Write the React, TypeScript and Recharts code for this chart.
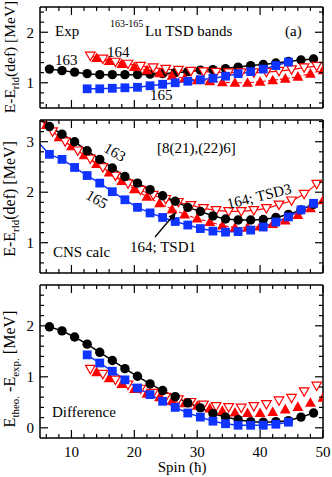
import React from 'react';
import { LineChart, Line, XAxis, YAxis } from 'recharts';

// spins
const spin163 = [6.5, 8.5, 10.5, 12.5, 14.5, 16.5, 18.5, 20.5, 22.5, 24.5, 26.5, 28.5, 30.5, 32.5, 34.5, 36.5, 38.5, 40.5, 42.5, 44.5, 46.5, 48.5];
const spin165Exp = [12.5, 14.5, 16.5, 18.5, 20.5, 22.5, 24.5, 26.5, 28.5, 30.5, 32.5, 34.5, 36.5, 38.5, 40.5, 42.5, 44.5];
const spinEven = [14, 16, 18, 20, 22, 24, 26, 28, 30, 32, 34, 36, 38, 40, 42, 44, 46, 48, 50];
const spinOdd = [13, 15, 17, 19, 21, 23, 25, 27, 29, 31, 33, 35, 37, 39, 41, 43, 45, 47, 49];
const spinEvenCalc = [5, 6, 8, 10, 12, 14, 16, 18, 20, 22, 24, 26, 28, 30, 32, 34, 36, 38, 40, 42, 44, 46, 48, 50];
const spinOddCalc = [5, 7, 9, 11, 13, 15, 17, 19, 21, 23, 25, 27, 29, 31, 33, 35, 37, 39, 41, 43, 45, 47, 49];
const spin163Calc = [5, ...spin163];

// (a) experiment
const exp163 = [1.27, 1.24, 1.21, 1.18, 1.16, 1.16, 1.16, 1.16, 1.17, 1.18, 1.2, 1.22, 1.25, 1.26, 1.28, 1.31, 1.34, 1.36, 1.39, 1.42, 1.45, 1.47];
const exp165 = [0.88, 0.88, 0.89, 0.9, 0.91, 0.94, 0.97, 1.0, 1.03, 1.06, 1.09, 1.13, 1.18, 1.22, 1.27, 1.34, 1.41];
const exp164Tsd1 = [1.49, 1.43, 1.37, 1.31, 1.25, 1.19, 1.14, 1.09, 1.05, 1.03, 1.01, 1.0, 1.0, 1.02, 1.05, 1.08, 1.12, 1.18, 1.25];
const exp164Tsd3 = [1.53, 1.47, 1.41, 1.37, 1.33, 1.3, 1.27, 1.25, 1.23, 1.22, 1.21, 1.2, 1.2, 1.2, 1.21, 1.23, 1.26, 1.3, 1.33];

// CNS calc (first value = edge of frame)
const calc163 = [3.47, 3.3, 3.15, 3.0, 2.82, 2.65, 2.48, 2.31, 2.18, 2.05, 1.93, 1.82, 1.7, 1.62, 1.53, 1.47, 1.45, 1.45, 1.46, 1.5, 1.56, 1.65, 1.76];
const calc165 = [2.95, 2.75, 2.65, 2.49, 2.33, 2.18, 2.01, 1.85, 1.7, 1.59, 1.5, 1.42, 1.35, 1.28, 1.23, 1.21, 1.22, 1.25, 1.31, 1.41, 1.51, 1.65, 1.78];
const calc164Tsd1 = [3.45, 3.33, 3.09, 2.91, 2.73, 2.56, 2.39, 2.22, 2.06, 1.91, 1.78, 1.66, 1.56, 1.48, 1.41, 1.34, 1.3, 1.3, 1.32, 1.37, 1.44, 1.55, 1.68, 1.84];
const calc164Tsd3 = [3.44, 3.2, 3.0, 2.82, 2.66, 2.49, 2.32, 2.17, 2.04, 1.94, 1.86, 1.8, 1.74, 1.68, 1.64, 1.62, 1.62, 1.64, 1.68, 1.75, 1.83, 1.96, 2.16];

// difference
const diff163 = [1.98, 1.9, 1.78, 1.64, 1.48, 1.32, 1.16, 1.01, 0.86, 0.73, 0.61, 0.49, 0.39, 0.28, 0.21, 0.16, 0.12, 0.11, 0.12, 0.14, 0.21, 0.29];
const diff165 = [1.43, 1.27, 1.11, 0.94, 0.78, 0.65, 0.52, 0.4, 0.29, 0.21, 0.13, 0.08, 0.05, 0.05, 0.05, 0.07, 0.11];
const diff164Tsd1 = [1.09, 0.97, 0.86, 0.76, 0.67, 0.6, 0.53, 0.48, 0.43, 0.38, 0.33, 0.3, 0.29, 0.29, 0.31, 0.36, 0.41, 0.49, 0.59];
const diff164Tsd3 = [1.15, 1.05, 0.94, 0.84, 0.76, 0.68, 0.6, 0.55, 0.5, 0.45, 0.42, 0.4, 0.39, 0.42, 0.46, 0.53, 0.58, 0.71, 0.82];

// axes
const xTicks = [6, 8, 10, 12, 14, 16, 18, 20, 22, 24, 26, 28, 30, 32, 34, 36, 38, 40, 42, 44, 46, 48, 50];
const xMajor = [10, 20, 30, 40, 50];
const yTicksA = [0.6, 0.8, 1, 1.2, 1.4, 1.6, 1.8, 2, 2.2, 2.4];
const yTicksB = [0.6, 0.8, 1, 1.2, 1.4, 1.6, 1.8, 2, 2.2, 2.4, 2.6, 2.8, 3, 3.2, 3.4];
const yTicksC = [0, 0.2, 0.4, 0.6, 0.8, 1, 1.2, 1.4, 1.6, 1.8, 2, 2.2, 2.4, 2.6];
const yMajor = [1, 2, 3];
const yMajorC = [0, 1, 2];

const FONT = '"Liberation Serif", "Times New Roman", serif';
const BLUE = '#1034ff';
const RED = '#ff0000';

const toRows = (s: number[], v: number[]) => s.map((x, i) => ({ s: x, v: v[i] }));

const isMajor = (v: number, majors: number[]) => majors.some((m) => Math.abs(m - v) < 1e-6);

const FrameTick = (props: any) => {
  const { x, y, payload, side, majors, label } = props;
  const big = isMajor(payload.value, majors);
  const len = big ? 8 : 4;
  let line = null;
  let text = null;
  if (side === 'left') {
    line = <line x1={x} x2={x + len} y1={y} y2={y} stroke="#000" strokeWidth={1.2} />;
    if (label && big)
      text = (
        <text x={x - 6} y={y} dy="0.35em" textAnchor="end" fontSize={15} fontFamily={FONT} fill="#000">
          {payload.value}
        </text>
      );
  } else if (side === 'right') {
    line = <line x1={x} x2={x - len} y1={y} y2={y} stroke="#000" strokeWidth={1.2} />;
  } else if (side === 'top') {
    line = <line x1={x} x2={x} y1={y} y2={y + len} stroke="#000" strokeWidth={1.2} />;
  } else {
    line = <line x1={x} x2={x} y1={y} y2={y - len} stroke="#000" strokeWidth={1.2} />;
    if (label && big)
      text = (
        <text x={x} y={y + 19} textAnchor="middle" fontSize={15} fontFamily={FONT} fill="#000">
          {payload.value}
        </text>
      );
  }
  return (
    <g>
      {line}
      {text}
    </g>
  );
};

const makeDot = (shape: string, skipFirst = false) => (p: any) => {
  const { cx, cy, index } = p;
  if ((skipFirst && index === 0) || cx == null || cy == null) return <g key={index} />;
  if (shape === 'circle') return <circle key={index} cx={cx} cy={cy} r={4.7} fill="#000" />;
  if (shape === 'square') return <rect key={index} x={cx - 4.4} y={cy - 4.4} width={8.8} height={8.8} fill={BLUE} />;
  if (shape === 'up')
    return <polygon key={index} points={`${cx},${cy - 5.6} ${cx - 5.4},${cy + 4} ${cx + 5.4},${cy + 4}`} fill={RED} />;
  return (
    <polygon
      key={index}
      points={`${cx - 4.8},${cy - 3.8} ${cx + 4.8},${cy - 3.8} ${cx},${cy + 4.6}`}
      fill="#fff"
      stroke={RED}
      strokeWidth={1.2}
    />
  );
};

const Frame = ({ yDomain, yTicks, yMaj, topH, bottomH, xLabels }: any) => [
  <XAxis
    key="xb"
    xAxisId="b"
    type="number"
    dataKey="s"
    domain={[5, 50]}
    allowDataOverflow
    ticks={xTicks}
    orientation="bottom"
    height={bottomH}
    tickSize={0}
    tickMargin={0}
    tickLine={false}
    axisLine={{ stroke: '#000', strokeWidth: 1.5 }}
    interval={0}
    tick={(p: any) => <FrameTick {...p} side="bottom" majors={xMajor} label={xLabels} />}
  />,
  <XAxis
    key="xt"
    xAxisId="t"
    type="number"
    dataKey="s"
    domain={[5, 50]}
    allowDataOverflow
    ticks={xTicks}
    orientation="top"
    height={topH}
    tickSize={0}
    tickMargin={0}
    tickLine={false}
    axisLine={{ stroke: '#000', strokeWidth: 1.5 }}
    interval={0}
    tick={(p: any) => <FrameTick {...p} side="top" majors={xMajor} />}
  />,
  <YAxis
    key="yl"
    yAxisId="l"
    type="number"
    domain={yDomain}
    allowDataOverflow
    ticks={yTicks}
    width={40}
    tickSize={0}
    tickMargin={0}
    tickLine={false}
    axisLine={{ stroke: '#000', strokeWidth: 1.5 }}
    interval={0}
    tick={(p: any) => <FrameTick {...p} side="left" majors={yMaj} label />}
  />,
  <YAxis
    key="yr"
    yAxisId="r"
    orientation="right"
    type="number"
    domain={yDomain}
    allowDataOverflow
    ticks={yTicks}
    width={9}
    tickSize={0}
    tickMargin={0}
    tickLine={false}
    axisLine={{ stroke: '#000', strokeWidth: 1.5 }}
    interval={0}
    tick={(p: any) => <FrameTick {...p} side="right" majors={yMaj} />}
  />,
];

const series = (key: string, rows: any[], color: string, shape: string, opts: any = {}) => (
  <Line
    key={key}
    xAxisId="b"
    yAxisId="l"
    data={rows}
    dataKey="v"
    type="linear"
    stroke={opts.noLine ? 'none' : color}
    strokeWidth={opts.width || 1.5}
    strokeDasharray={opts.dash}
    dot={makeDot(shape, opts.skipFirst)}
    activeDot={false}
    isAnimationActive={false}
  />
);

const App = () => {
  return (
    <div style={{ position: 'fixed', left: 0, top: 0, width: 332, height: 477, background: '#fff', fontFamily: FONT }}>
      <div style={{ position: 'absolute', left: 0, top: 0 }}>
        <LineChart width={332} height={112} margin={{ top: 0, right: 0, bottom: 0, left: 0 }}>
          {Frame({ yDomain: [0.5, 2.5], yTicks: yTicksA, yMaj: yMajor, topH: 7, bottomH: 4, xLabels: false })}
          {series('e163', toRows(spin163, exp163), '#000', 'circle')}
          {series('e164a', toRows(spinEven, exp164Tsd1), RED, 'up', { width: 1.1, dash: '4 2' })}
          {series('e164b', toRows(spinOdd, exp164Tsd3), RED, 'down', { width: 1.1 })}
          {series('e165', toRows(spin165Exp, exp165), BLUE, 'square')}
        </LineChart>
      </div>
      <div style={{ position: 'absolute', left: 0, top: 113 }}>
        <LineChart width={332} height={164} margin={{ top: 0, right: 0, bottom: 0, left: 0 }}>
          {Frame({ yDomain: [0.4, 3.43], yTicks: yTicksB, yMaj: yMajor, topH: 7, bottomH: 4, xLabels: false })}
          {series('c164a', toRows(spinEvenCalc, calc164Tsd1), RED, 'up', { width: 1.1, dash: '4 2', skipFirst: true })}
          {series('c164b', toRows(spinOddCalc, calc164Tsd3), RED, 'down', { width: 1.1, skipFirst: true })}
          {series('c163', toRows(spin163Calc, calc163), '#000', 'circle', { skipFirst: true })}
          {series('c165', toRows(spin163Calc, calc165), BLUE, 'square', { skipFirst: true })}
        </LineChart>
      </div>
      <div style={{ position: 'absolute', left: 0, top: 278 }}>
        <LineChart width={332} height={199} margin={{ top: 0, right: 0, bottom: 0, left: 0 }}>
          {Frame({ yDomain: [-0.2, 2.8], yTicks: yTicksC, yMaj: yMajorC, topH: 7, bottomH: 39, xLabels: true })}
          {series('d164a', toRows(spinEven, diff164Tsd1), RED, 'up', { noLine: true })}
          {series('d164b', toRows(spinOdd, diff164Tsd3), RED, 'down', { noLine: true })}
          {series('d163', toRows(spin163, diff163), '#000', 'circle')}
          {series('d165', toRows(spin165Exp, diff165), BLUE, 'square')}
        </LineChart>
      </div>
      <svg
        width={332}
        height={477}
        style={{ position: 'absolute', left: 0, top: 0, pointerEvents: 'none' }}
        fontFamily={FONT}
        fill="#000"
      >
        {/* axis titles */}
        <text transform="translate(15,57) rotate(-90)" textAnchor="middle" fontSize={15.5}>
          E-E<tspan fontSize={11} dy={4}>rld</tspan>
          <tspan dy={-4}>(def) [MeV]</tspan>
        </text>
        <text transform="translate(15,199) rotate(-90)" textAnchor="middle" fontSize={16}>
          E-E<tspan fontSize={11} dy={4}>rld</tspan>
          <tspan dy={-4}>(def) [MeV]</tspan>
        </text>
        <text transform="translate(15,369) rotate(-90)" textAnchor="middle" fontSize={16}>
          E<tspan fontSize={11} dy={4}>theo.</tspan>
          <tspan dy={-4}> -E</tspan>
          <tspan fontSize={11} dy={4}>exp.</tspan>
          <tspan dy={-4}> [MeV]</tspan>
        </text>
        <text x={182} y={472} textAnchor="middle" fontSize={15}>Spin (ħ)</text>

        {/* panel (a) */}
        <text x={55} y={36} fontSize={15}>Exp</text>
        <text x={110} y={27} fontSize={10}>163-165</text>
        <text x={145} y={36} fontSize={15}>Lu TSD bands</text>
        <text x={285} y={36} fontSize={15}>(a)</text>
        <text x={55} y={65} fontSize={15}>163</text>
        <text x={107} y={57} fontSize={15}>164</text>
        <text x={150} y={100} fontSize={15}>165</text>

        {/* CNS panel */}
        <text transform="translate(115,152) rotate(30)" textAnchor="middle" dy="0.35em" fontSize={15}>163</text>
        <text transform="translate(97,199) rotate(30)" textAnchor="middle" dy="0.35em" fontSize={15}>165</text>
        <text x={157} y={153} fontSize={15}>[8(21),(22)6]</text>
        <text transform="translate(259,196) rotate(-14)" textAnchor="middle" dy="0.35em" fontSize={15}>164; TSD3</text>
        <text x={130} y={252} fontSize={15}>164; TSD1</text>
        <text x={53} y={257} fontSize={15}>CNS calc</text>
        <line x1={155} y1={237} x2={172} y2={217} stroke="#000" strokeWidth={1.3} />
        <polygon points="176,212 168.5,216.5 174,220.5" fill="#000" />

        {/* difference panel */}
        <text x={52} y={417} fontSize={15}>Difference</text>
      </svg>
    </div>
  );
};

export default App;
